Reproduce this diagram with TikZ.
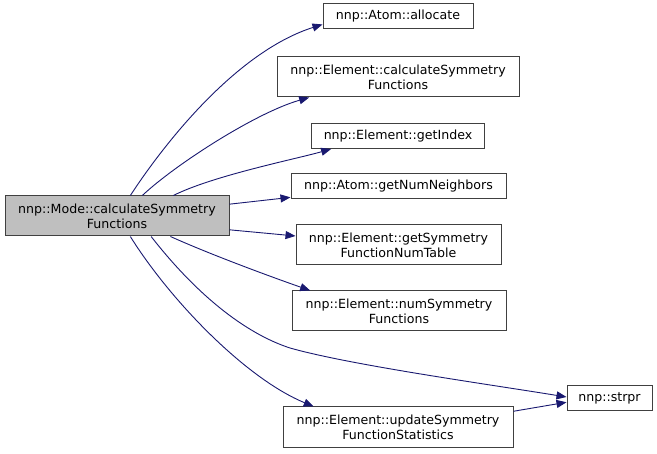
\documentclass[tikz,border=0pt]{standalone}
\usepackage{fontspec}
\setmainfont{DejaVu Sans}
\usetikzlibrary{arrows.meta}
\definecolor{edgeblue}{HTML}{191970}
\begin{document}
\begin{tikzpicture}[x=1pt,y=-1pt,
  fn/.style={draw=black!75,line width=1pt,align=center,inner sep=0pt,
    font=\fontsize{12.6}{15}\selectfont,minimum height=25pt},
  fntwo/.style={fn,minimum height=40pt},
  call/.style={draw=edgeblue,line width=0.9pt,-{Triangle[length=10pt,width=8pt]}}]
\useasboundingbox (0,0) rectangle (657,454);
\node[fntwo,fill=black!25,minimum width=224pt] (main) at (117,216) {nnp::Mode::calculateSymmetry\\Functions};
\node[fn,minimum width=150pt] (allocate) at (398,16.5) {nnp::Atom::allocate};
\node[fntwo,minimum width=242pt] (calcsf) at (398,77) {nnp::Element::calculateSymmetry\\Functions};
\node[fn,minimum width=173pt] (getindex) at (398,136) {nnp::Element::getIndex};
\node[fn,minimum width=215pt] (numneigh) at (398.5,186) {nnp::Atom::getNumNeighbors};
\node[fntwo,minimum width=205pt] (numtable) at (398.5,245) {nnp::Element::getSymmetry\\FunctionNumTable};
\node[fntwo,minimum width=214pt] (numsf) at (399,311) {nnp::Element::numSymmetry\\Functions};
\node[fntwo,minimum width=230pt,minimum height=41pt] (updstat) at (398,427.5) {nnp::Element::updateSymmetry\\FunctionStatistics};
\node[fn,minimum width=85pt] (strpr) at (609.5,398.5) {nnp::strpr};
\coordinate (bend) at (290,348);
% calls
\draw[call] (main.57) .. controls +(40,-61) and +(-82,26) .. (allocate.186);
\draw[call] (main.39) .. controls +(33,-31) and +(-53,15) .. (calcsf.193);
\draw[call] (main.20) .. controls +(40,-20) and +(-35,10) .. (getindex.191);
\draw[call] (main.6) -- (numneigh.186);
\draw[call] (main.-7) -- (numtable.175);
\draw[call] (main.-21) .. controls +(40,18) and +(-40,-14) .. (numsf.167);
\draw[call] (main.-31) .. controls +(50,64) and +(-40,-13) .. (bend)
  .. controls +(60,17) and +(-80,-13) .. (strpr.178);
\draw[call] (main.-57) .. controls +(40,64) and +(-68,-28) .. (updstat.166);
\draw[call] (updstat.8) -- (strpr.185);
\end{tikzpicture}
\end{document}
